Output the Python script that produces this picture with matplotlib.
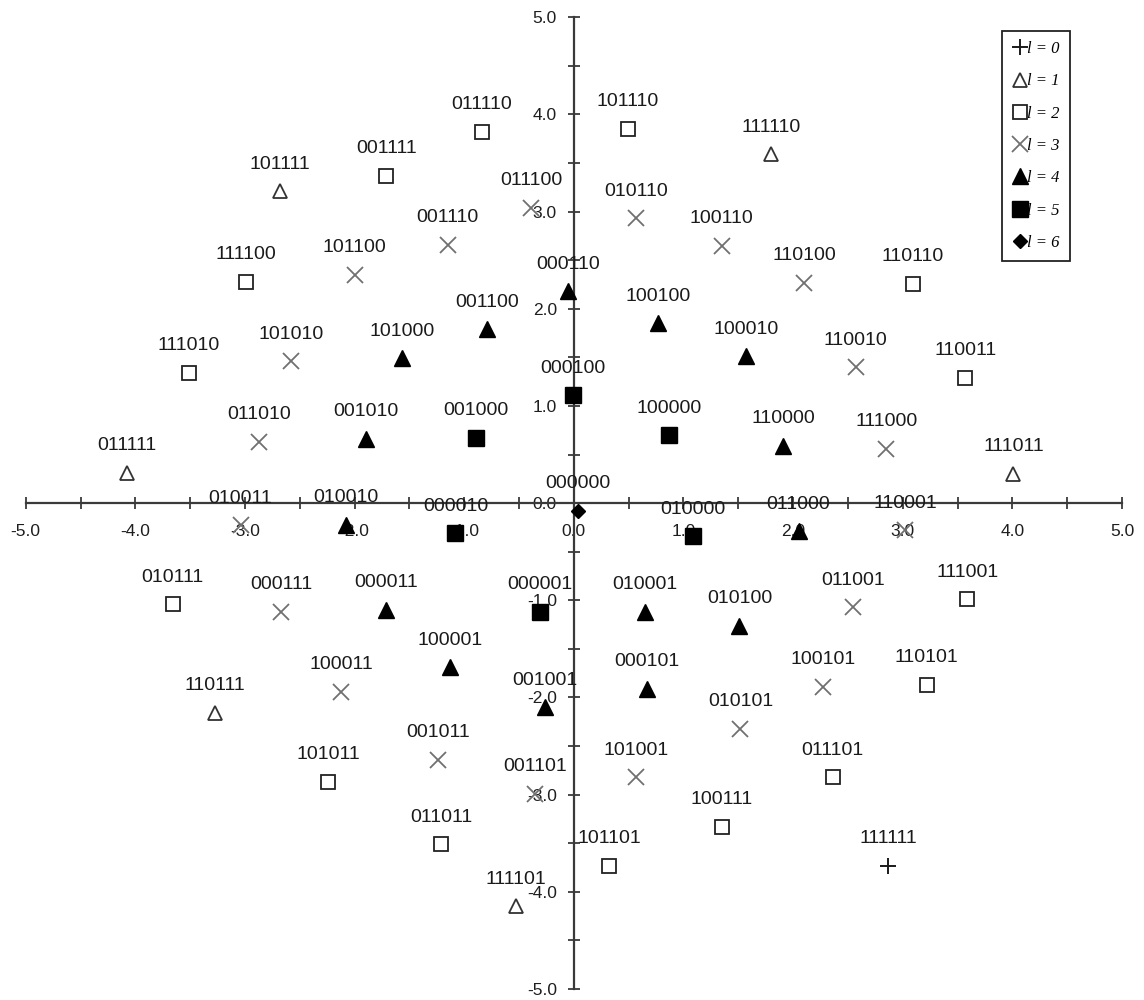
import matplotlib
matplotlib.use("Agg")
import matplotlib.pyplot as plt
from matplotlib.ticker import MultipleLocator, FormatStrFormatter

# ---- data: 6-bit codes grouped by level l, with their planar coordinates ----
codes_l0 = ["111111"]
x_l0 = [2.87]
y_l0 = [-3.73]

codes_l1 = ["111110", "101111", "011111", "111011", "110111", "111101"]
x_l1 = [1.80, -2.68, -4.08, 4.01, -3.27, -0.53]
y_l1 = [3.59, 3.21, 0.31, 0.30, -2.16, -4.15]

codes_l2 = ["011110", "101110", "001111", "111100", "110110", "111010", "110011",
            "010111", "111001", "110101", "101011", "011101", "100111", "011011",
            "101101"]
x_l2 = [-0.84, 0.49, -1.71, -2.99, 3.09, -3.51, 3.57,
        -3.66, 3.59, 3.22, -2.24, 2.36, 1.35, -1.21, 0.32]
y_l2 = [3.82, 3.85, 3.37, 2.28, 2.26, 1.34, 1.29,
        -1.04, -0.99, -1.87, -2.87, -2.82, -3.33, -3.51, -3.73]

codes_l3 = ["011100", "010110", "001110", "100110", "101100", "110100", "101010",
            "110010", "011010", "111000", "010011", "110001", "000111", "011001",
            "100011", "100101", "001011", "010101", "001101", "101001"]
x_l3 = [-0.39, 0.57, -1.15, 1.35, -2.00, 2.10, -2.58,
        2.57, -2.87, 2.85, -3.04, 3.02, -2.67, 2.55,
        -2.12, 2.27, -1.24, 1.52, -0.35, 0.57]
y_l3 = [3.04, 2.93, 2.66, 2.65, 2.35, 2.27, 1.46,
        1.40, 0.63, 0.56, -0.23, -0.28, -1.12, -1.07,
        -1.94, -1.89, -2.64, -2.32, -2.99, -2.82]

codes_l4 = ["000110", "001100", "100100", "101000", "100010", "001010", "110000",
            "010010", "011000", "000011", "010001", "010100", "100001", "000101",
            "001001"]
x_l4 = [-0.05, -0.79, 0.77, -1.57, 1.57, -1.90, 1.91,
        -2.08, 2.05, -1.71, 0.65, 1.51, -1.13, 0.67, -0.26]
y_l4 = [2.18, 1.79, 1.85, 1.49, 1.51, 0.66, 0.59,
        -0.22, -0.29, -1.10, -1.12, -1.26, -1.69, -1.91, -2.10]

codes_l5 = ["000100", "001000", "100000", "000010", "010000", "000001"]
x_l5 = [-0.01, -0.89, 0.87, -1.08, 1.09, -0.31]
y_l5 = [1.11, 0.67, 0.70, -0.31, -0.34, -1.12]

codes_l6 = ["000000"]
x_l6 = [0.04]
y_l6 = [-0.08]

level_names = ["l = 0", "l = 1", "l = 2", "l = 3", "l = 4", "l = 5", "l = 6"]

# ---- figure / axes ----
fig = plt.figure(figsize=(11.44, 10.0), dpi=100)
ax = fig.add_axes([25.7 / 1144, 11 / 1000, 1096.3 / 1144, 971.7 / 1000])
ax.set_xlim(-5, 5)
ax.set_ylim(-5, 5)

axis_color = "#3a3a3a"
for side in ("top", "right"):
    ax.spines[side].set_visible(False)
for side in ("left", "bottom"):
    ax.spines[side].set_position(("data", 0))
    ax.spines[side].set_color(axis_color)
    ax.spines[side].set_linewidth(1.6)

for axis in (ax.xaxis, ax.yaxis):
    axis.set_major_locator(MultipleLocator(1.0))
    axis.set_minor_locator(MultipleLocator(0.5))
    axis.set_major_formatter(FormatStrFormatter("%.1f"))

ax.tick_params(axis="both", which="both", direction="inout", length=8.5,
               width=1.3, color=axis_color)
ax.tick_params(axis="x", which="major", pad=11.0)
ax.tick_params(axis="y", which="major", pad=8.0)
for lab in ax.get_xticklabels() + ax.get_yticklabels():
    lab.set_fontfamily("Liberation Sans")
    lab.set_fontsize(12.5)
    lab.set_color("#1e1e1e")

# ---- series ----
series = [
    (codes_l0, x_l0, y_l0, dict(marker="+", ms=12, mew=1.4, mec="#1a1a1a", mfc="none")),
    (codes_l1, x_l1, y_l1, dict(marker="^", ms=10.5, mew=1.3, mec="#333333", mfc="white")),
    (codes_l2, x_l2, y_l2, dict(marker="s", ms=10.5, mew=1.3, mec="#222222", mfc="white")),
    (codes_l3, x_l3, y_l3, dict(marker="x", ms=11.5, mew=1.3, mec="#707070", mfc="none")),
    (codes_l4, x_l4, y_l4, dict(marker="^", ms=11, mew=1.0, mec="black", mfc="black")),
    (codes_l5, x_l5, y_l5, dict(marker="s", ms=11, mew=1.0, mec="black", mfc="black")),
    (codes_l6, x_l6, y_l6, dict(marker="D", ms=7.5, mew=1.0, mec="black", mfc="black")),
]

handles = []
for (codes, xs, ys, style), name in zip(series, level_names):
    h, = ax.plot(xs, ys, linestyle="none", label=name, zorder=3, **style)
    handles.append(h)
    for c, xv, yv in zip(codes, xs, ys):
        ax.annotate(c, (xv, yv), xytext=(0, 19.5), textcoords="offset points",
                    ha="center", va="center", fontsize=14,
                    fontfamily="Liberation Sans", color="#1a1a1a", zorder=4)

# ---- legend ----
leg = fig.legend(handles=handles, loc="upper left",
                 bbox_to_anchor=(1002 / 1144, 1 - 31 / 1000),
                 borderaxespad=0, frameon=True, fancybox=False,
                 handlelength=0.9, handletextpad=0.0, borderpad=0.6,
                 labelspacing=0.98, markerscale=1.0,
                 prop=dict(family="Liberation Serif", style="italic", size=12))
leg.get_frame().set_edgecolor("#222222")
leg.get_frame().set_linewidth(1.3)
leg.get_frame().set_alpha(1.0)

fig.savefig("out.png", dpi=100)
